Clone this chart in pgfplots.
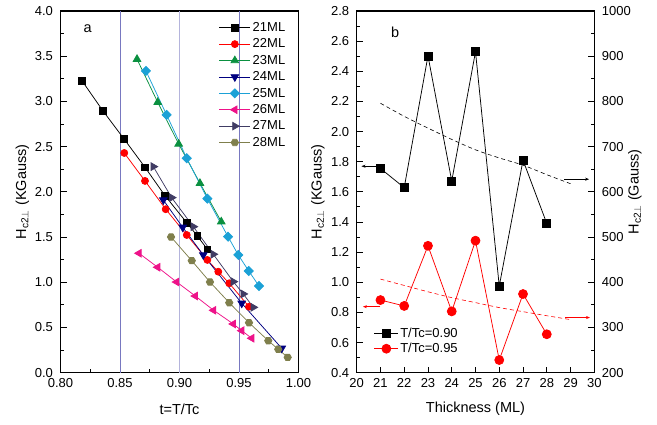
\documentclass[border=0pt]{standalone}
\usepackage{pgfplots}
\pgfplotsset{compat=1.18}
\usepackage{fontspec}
\setmainfont{Liberation Sans}
\usetikzlibrary{arrows.meta}

\definecolor{c22}{HTML}{FF0000}
\definecolor{c23}{HTML}{0A9040}
\definecolor{c24}{HTML}{000080}
\definecolor{c25}{HTML}{1BA1D6}
\definecolor{c26}{HTML}{EE1289}
\definecolor{c27}{HTML}{403C64}
\definecolor{c28}{HTML}{7F7F4C}
\definecolor{vdark}{HTML}{7878C0}
\definecolor{vlight}{HTML}{B4B4DC}

\pgfdeclareplotmark{hexagon*}{%
  \pgfpathmoveto{\pgfpointpolar{0}{\pgfplotmarksize}}%
  \pgfpathlineto{\pgfpointpolar{60}{\pgfplotmarksize}}%
  \pgfpathlineto{\pgfpointpolar{120}{\pgfplotmarksize}}%
  \pgfpathlineto{\pgfpointpolar{180}{\pgfplotmarksize}}%
  \pgfpathlineto{\pgfpointpolar{240}{\pgfplotmarksize}}%
  \pgfpathlineto{\pgfpointpolar{300}{\pgfplotmarksize}}%
  \pgfpathclose
  \pgfusepathqfillstroke}

\newcommand\tickfont{\fontsize{13}{15}\selectfont}
\newcommand\labfont{\fontsize{14.5}{17}\selectfont}
\newcommand\Hc{H\textsubscript{c2$\perp$}}

\pgfplotsset{
  myaxis/.style={
    scale only axis, anchor=south west,
    height=361.7pt,
    axis line style={line width=1.1pt},
    every tick/.style={line width=0.9pt, black},
    major tick length=6pt, minor tick length=3.5pt,
    tick align=inside,
    ticklabel style={font=\tickfont},
    /pgf/number format/assume math mode=true,
    /pgf/number format/set thousands separator={},
    label style={font=\labfont},
    xticklabel style={yshift=-2pt},
  },
  series/.style={color=#1, line width=0.75pt, mark options={solid, fill=#1, draw=#1}},
  legend image code/.code={%
    \draw[#1, mark repeat=2, mark phase=2] plot coordinates {(0pt,0pt) (15.5pt,0pt) (31pt,0pt)};},
}

\begin{document}
\begin{tikzpicture}
\path[use as bounding box] (0,0) rectangle (657pt,424pt);

% ---------------- panel a ----------------
\begin{axis}[myaxis,
  at={(60.5pt,51.3pt)}, width=238pt,
  xmin=0.80, xmax=1.00, ymin=0, ymax=4,
  xtick={0.80,0.85,...,1.001}, ytick={0,0.5,...,4.01},
  minor x tick num=1, minor y tick num=1,
  xtick pos=left, ytick pos=left,
  xticklabel style={/pgf/number format/.cd, fixed, fixed zerofill, precision=2},
  yticklabel style={/pgf/number format/.cd, fixed, fixed zerofill, precision=1, /tikz/xshift=-4pt},
  xlabel={t=T/Tc},
  ylabel={\Hc\ (KGauss)},
  xlabel style={at={(axis description cs:0.5,-0.1)}, anchor=center},
  ylabel style={at={(axis description cs:-0.16,0.5)}, anchor=center},
  legend style={draw=none, fill=none, font=\tickfont, at={(axis description cs:0.665,0.977)}, anchor=north west,
    inner sep=0pt, nodes={text height=9.9pt, text depth=2.5pt, inner sep=2pt}, row sep=0pt},
  legend cell align=left,
]
\addplot[vdark, line width=0.7pt, forget plot] coordinates {(0.85,0) (0.85,4)};
\addplot[vlight, line width=1.6pt, forget plot] coordinates {(0.90,0) (0.90,4)};
\addplot[vdark, line width=0.7pt, forget plot] coordinates {(0.95,0) (0.95,4)};

\addplot[series=black, mark=square*, mark size=3.3pt] coordinates {
(0.8181,3.228) (0.8357,2.895) (0.8534,2.585) (0.8710,2.272) (0.8878,1.958) (0.9061,1.659) (0.9150,1.512) (0.9234,1.365)};
\addlegendentry{21ML}
\addplot[series=c22, mark=*, mark size=3.5pt] coordinates {
(0.8536,2.430) (0.8710,2.121) (0.8884,1.808) (0.9061,1.523) (0.9234,1.247) (0.9326,1.117) (0.9418,0.989) (0.9584,0.730)};
\addlegendentry{22ML}
\addplot[series=c23, mark=triangle*, mark size=4.4pt] coordinates {
(0.8643,3.467) (0.8817,2.991) (0.8993,2.530) (0.9172,2.095) (0.9351,1.670)};
\addlegendentry{23ML}
\addplot[series=c24, mark=triangle*, mark size=4.4pt, mark options={rotate=180}] coordinates {
(0.8864,1.910) (0.9027,1.608) (0.9200,1.302) (0.9523,0.768) (0.9859,0.270)};
\addlegendentry{24ML}
\addplot[series=c25, mark=square*, mark size=3.2pt, mark options={rotate=45}] coordinates {
(0.8718,3.337) (0.8892,2.851) (0.9061,2.372) (0.9234,1.925) (0.9408,1.504) (0.9494,1.302) (0.9582,1.125) (0.9668,0.959)};
\addlegendentry{25ML}
\addplot[series=c26, mark=triangle*, mark size=4.4pt, mark options={rotate=90}] coordinates {
(0.8660,1.321) (0.8817,1.166) (0.8976,1.003) (0.9133,0.848) (0.9287,0.690) (0.9452,0.539) (0.9523,0.465) (0.9607,0.381)};
\addlegendentry{26ML}
\addplot[series=c27, mark=triangle*, mark size=4.4pt, mark options={rotate=-90}] coordinates {
(0.8780,2.279) (0.8934,1.936) (0.9116,1.615) (0.9284,1.310) (0.9452,1.007) (0.9536,0.871) (0.9620,0.723)};
\addlegendentry{27ML}
\addplot[series=c28, mark=hexagon*, mark size=3.7pt] coordinates {
(0.8929,1.501) (0.9103,1.239) (0.9256,1.003) (0.9418,0.774) (0.9584,0.553) (0.9746,0.354) (0.9830,0.259) (0.9909,0.170)};
\addlegendentry{28ML}
\node[font=\labfont, anchor=center] at (axis description cs:0.114,0.952) {a};
\end{axis}

% ---------------- panel b (left axis, KGauss) ----------------
\begin{axis}[myaxis,
  at={(356.7pt,51.3pt)}, width=237.6pt,
  xmin=20, xmax=30, ymin=0.4, ymax=2.8,
  xtick={20,...,30}, ytick={0.4,0.6,...,2.81},
  minor x tick num=0, minor y tick num=1,
  xtick pos=left, ytick pos=left,
  yticklabel style={/pgf/number format/.cd, fixed, fixed zerofill, precision=1, /tikz/xshift=-4pt},
  xlabel={Thickness (ML)},
  ylabel={\Hc\ (KGauss)},
  xlabel style={at={(axis description cs:0.5,-0.1)}, anchor=center},
  ylabel style={at={(axis description cs:-0.163,0.5)}, anchor=center},
  legend style={draw=none, fill=none, font=\tickfont, at={(axis description cs:0.072,0.045)}, anchor=south west,
    inner sep=0pt, nodes={text height=9.5pt, text depth=2.5pt, inner sep=1.5pt}, row sep=0pt},
  legend image code/.code={%
    \draw[#1, mark repeat=2, mark phase=2] plot coordinates {(0pt,0pt) (12pt,0pt) (24pt,0pt)};},
  legend cell align=left,
]
\addplot[series=black, mark=square*, mark size=4pt] coordinates {
(21,1.755) (22,1.628) (23,2.502) (24,1.672) (25,2.530) (26,0.975) (27,1.810) (28,1.390)};
\addlegendentry{T/Tc=0.90}
\addplot[series=c22, mark=*, mark size=4.5pt] coordinates {
(21,0.882) (22,0.843) (23,1.242) (24,0.807) (25,1.276) (26,0.484) (27,0.922) (28,0.655)};
\addlegendentry{T/Tc=0.95}
\draw[black, line width=0.6pt, -{Stealth[length=4pt,width=3pt]}] (axis cs:20.94,1.77) -- (axis cs:20.20,1.77);
\draw[c22, line width=0.6pt, -{Stealth[length=4pt,width=3pt]}] (axis cs:21.0,0.838) -- (axis cs:20.26,0.838);
\node[font=\labfont, anchor=center] at (axis description cs:0.162,0.941) {b};
\end{axis}

% ---------------- panel b (right axis, Gauss) ----------------
\begin{axis}[myaxis,
  at={(356.7pt,51.3pt)}, width=237.6pt,
  xmin=20, xmax=30, ymin=200, ymax=1000,
  axis y line*=right, axis x line=none,
  ytick={200,300,...,1000}, minor y tick num=1,
  yticklabel style={xshift=4pt},
  ylabel={\Hc\ (Gauss)},
  ylabel style={at={(axis description cs:1.171,0.5)}, anchor=center, rotate=0},
]
\addplot[black, line width=0.6pt, dash pattern=on 4pt off 3pt, smooth] coordinates {
(21,796) (22,767) (23,741) (24,716) (25,693) (26,675) (27,659) (28,638) (29,618)};
\addplot[c22, line width=0.6pt, dash pattern=on 4pt off 3pt, smooth] coordinates {
(21,407) (22,393) (23,379) (24,366) (25,355) (26,344) (27,335) (28,326) (29.05,317)};
\draw[black, line width=0.6pt, -{Stealth[length=4pt,width=3pt]}] (axis cs:28.74,628) -- (axis cs:29.78,628);
\draw[c22, line width=0.6pt, -{Stealth[length=4pt,width=3pt]}] (axis cs:28.77,322) -- (axis cs:29.82,322);
\end{axis}
\end{tikzpicture}
\end{document}
